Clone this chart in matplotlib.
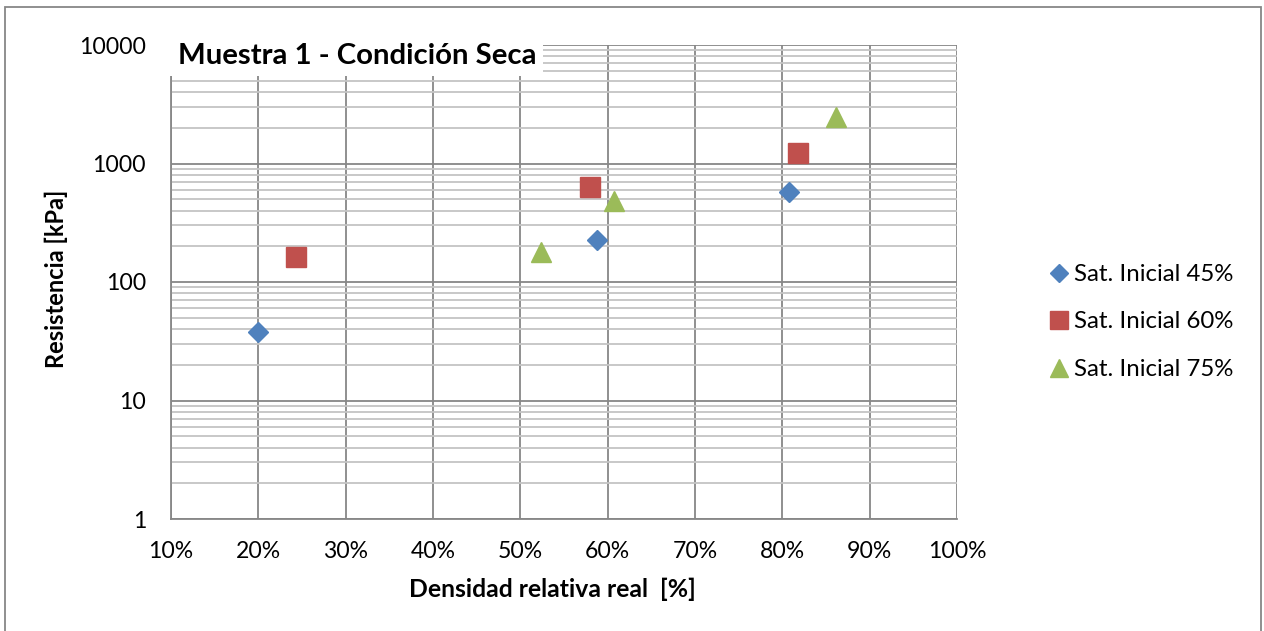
import matplotlib
matplotlib.use("Agg")
import matplotlib.pyplot as plt
from matplotlib.patches import Rectangle
from matplotlib.ticker import FuncFormatter, FixedLocator, NullFormatter

plt.rcParams['font.family'] = ['Lato', 'DejaVu Sans']

# Relative density [%] and strength [kPa] per initial saturation
sat45_x = [20.0, 58.8, 80.8]
sat45_y = [38, 226, 575]
sat60_x = [24.3, 58.0, 81.8]
sat60_y = [162, 633, 1233]
sat75_x = [52.4, 60.7, 86.2]
sat75_y = [180, 486, 2455]

series_labels = ["Sat. Inicial 45%", "Sat. Inicial 60%", "Sat. Inicial 75%"]
x_ticks = [10, 20, 30, 40, 50, 60, 70, 80, 90, 100]
y_ticks = [1, 10, 100, 1000, 10000]

title = "Muestra 1 - Condición Seca"
x_label = "Densidad relativa real  [%]"
y_label = "Resistencia [kPa]"

W, H = 1264, 631
fig = plt.figure(figsize=(W / 100, H / 100), dpi=100)
fig.patch.set_facecolor("white")

L, R, T, B = 171, 957, 45, 519
ax = fig.add_axes([L / W, 1 - B / H, (R - L) / W, (B - T) / H])

major_c = "#878787"
minor_c = "#c4c4c4"

ax.set_yscale("log")
ax.set_xlim(10, 100)
ax.set_ylim(1, 10000)

ax.yaxis.set_major_locator(FixedLocator(y_ticks))
ax.yaxis.set_major_formatter(FuncFormatter(lambda v, p: f"{v:.0f}"))
minors = [m * 10 ** e for e in range(0, 4) for m in range(2, 10)]
ax.yaxis.set_minor_locator(FixedLocator(minors))
ax.yaxis.set_minor_formatter(NullFormatter())
ax.xaxis.set_major_locator(FixedLocator(x_ticks))
ax.xaxis.set_major_formatter(FuncFormatter(lambda v, p: f"{v:.0f}%"))

ax.grid(True, which="major", axis="both", color=major_c, lw=1.3, zorder=0)
ax.grid(True, which="minor", axis="y", color=minor_c, lw=1.3, zorder=0)
ax.set_axisbelow(True)

for s in ["top", "right"]:
    ax.spines[s].set_visible(False)
for s in ["left", "bottom"]:
    ax.spines[s].set_color(major_c)
    ax.spines[s].set_linewidth(1.3)

ax.tick_params(axis="both", which="both", length=0, labelsize=16.6, colors="black")
ax.tick_params(axis="y", pad=18)
ax.tick_params(axis="x", pad=16)

ax.plot(sat45_x, sat45_y, ls="none", marker="D", ms=10.2, color="#4F81BD",
        mec="#4F81BD", label=series_labels[0], zorder=3, clip_on=False)
ax.plot(sat60_x, sat60_y, ls="none", marker="s", ms=14.4, color="#C0504D",
        mec="#C0504D", label=series_labels[1], zorder=3, clip_on=False)
ax.plot(sat75_x, sat75_y, ls="none", marker="^", ms=14.4, color="#9BBB59",
        mec="#9BBB59", label=series_labels[2], zorder=3, clip_on=False)

ax.set_xlabel(x_label, fontsize=17.8, fontweight="bold")
ax.set_ylabel(y_label, fontsize=17.0, fontweight="bold")
ax.xaxis.set_label_coords((552 - L) / (R - L), 1 - (589 - T) / (B - T))
ax.xaxis.label.set_va("center")
ax.yaxis.set_label_coords((56 - L) / (R - L), 1 - (279 - T) / (B - T))
ax.yaxis.label.set_va("center")

leg = fig.legend(loc="center left", bbox_to_anchor=(1052 / W, 1 - 322 / H),
                 frameon=False, fontsize=17.3, handlelength=0.6,
                 handletextpad=0.3, borderpad=0, borderaxespad=0,
                 labelspacing=1.1, markerscale=0.9)

# White title box over the upper-left of the plot area
fig.patches.append(Rectangle((165 / W, 1 - 76 / H), (543 - 165) / W, (76 - 30) / H,
                             transform=fig.transFigure, facecolor="white",
                             edgecolor="none", zorder=5))
fig.text(357 / W, 1 - 56 / H, title, ha="center", va="center",
         fontsize=21.2, fontweight="bold", zorder=6)

# Chart border
fig.patches.append(Rectangle((5 / W, -20 / H), (1261 - 5) / W, (H + 20 - 7) / H,
                             transform=fig.transFigure, facecolor="none",
                             edgecolor=major_c, lw=1.3, zorder=6))

fig.savefig("out.png", dpi=100)
